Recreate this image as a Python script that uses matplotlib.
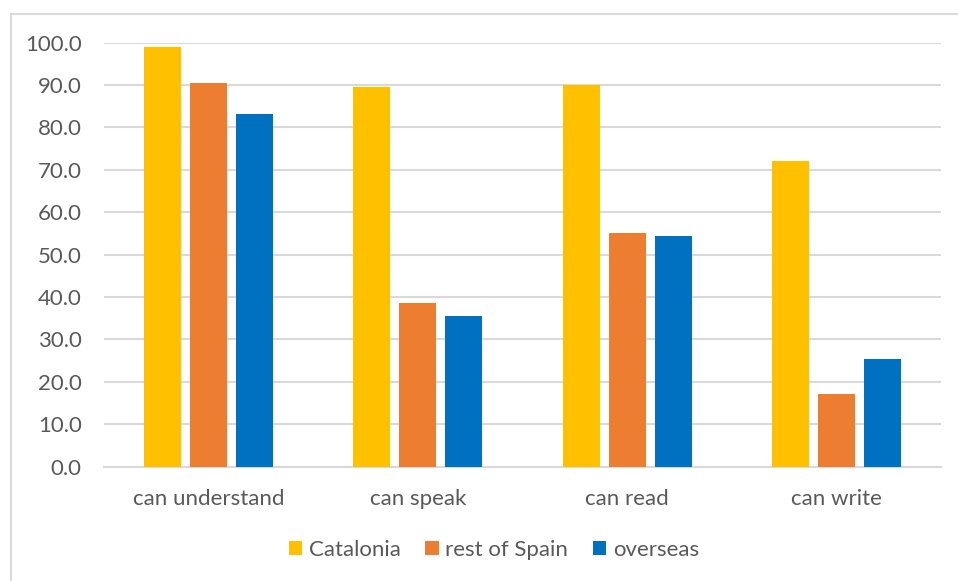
import matplotlib.pyplot as plt
import numpy as np
from matplotlib.lines import Line2D

plt.rcParams["font.family"] = ["Lato", "DejaVu Sans"]

SKILLS = ["can understand", "can speak", "can read", "can write"]
CATALONIA = [99.0, 89.5, 90.0, 72.0]
REST_OF_SPAIN = [90.4, 38.5, 55.2, 17.1]
OVERSEAS = [83.1, 35.5, 54.4, 25.4]

SERIES = [
    ("Catalonia", CATALONIA, "#ffc000"),
    ("rest of Spain", REST_OF_SPAIN, "#ed7d31"),
    ("overseas", OVERSEAS, "#0070c0"),
]

TEXT_COLOR = "#595959"
GRID_COLOR = "#d9d9d9"

fig = plt.figure(figsize=(9.58, 5.81), dpi=100)
ax = fig.add_axes([104 / 958, 1 - 466.7 / 581, 837 / 958, 424 / 581])

x = np.arange(len(SKILLS))
bar_width = 0.177
step = 0.22
for i, (label, values, color) in enumerate(SERIES):
    ax.bar(x + (i - 1) * step, values, width=bar_width, color=color, label=label, zorder=3)

ax.set_xlim(-0.5, len(SKILLS) - 0.5)
ax.set_ylim(0, 100)
ax.set_yticks(np.arange(0, 101, 10))
ax.set_yticklabels([f"{v:.1f}" for v in np.arange(0, 101, 10)])
ax.set_xticks(x)
ax.set_xticklabels(SKILLS)

ax.grid(axis="y", color=GRID_COLOR, linewidth=1.5, zorder=0)
ax.tick_params(axis="both", length=0, labelsize=16, colors=TEXT_COLOR)
ax.tick_params(axis="y", pad=16)
ax.tick_params(axis="x", pad=16)
for side in ("top", "right", "left"):
    ax.spines[side].set_visible(False)
ax.spines["bottom"].set_color(GRID_COLOR)
ax.spines["bottom"].set_linewidth(1.5)

# chart area frame (left and top edges)
fig.add_artist(Line2D([10.5 / 958, 10.5 / 958], [0, 1 - 13.5 / 581],
                      transform=fig.transFigure, color=GRID_COLOR, linewidth=1.5))
fig.add_artist(Line2D([10.5 / 958, 1], [1 - 13.5 / 581, 1 - 13.5 / 581],
                      transform=fig.transFigure, color=GRID_COLOR, linewidth=1.5))

fig.legend(
    loc="center",
    bbox_to_anchor=(494 / 958, 1 - 550 / 581),
    ncol=3,
    frameon=False,
    fontsize=16,
    labelcolor=TEXT_COLOR,
    handlelength=0.6,
    handleheight=0.6,
    handletextpad=0.3,
    columnspacing=1.1,
)

fig.savefig("out.png", dpi=100)
